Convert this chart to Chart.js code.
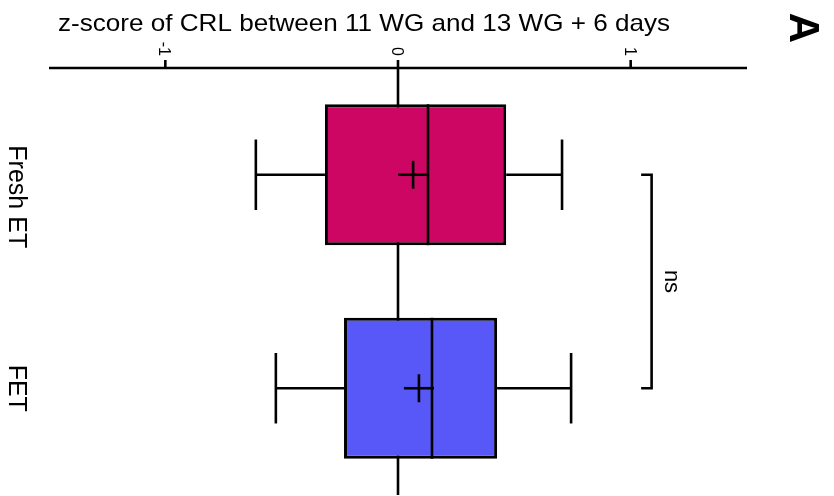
<!DOCTYPE html>
<html>
<head>
<meta charset="utf-8">
<script src="https://cdn.jsdelivr.net/npm/chart.js@4.4.1/dist/chart.umd.min.js"></script>
<style>
  body { margin: 0; background: #fff; }
  canvas { display: block; }
</style>
</head>
<body>
<canvas id="crl-chart" width="834" height="496"></canvas>
<script>
const groups = ['Fresh ET', 'FET'];
const whiskerLow = [-0.611, -0.525];
const quartile1 = [-0.314, -0.232];
const medians = [0.129, 0.146];
const quartile3 = [0.465, 0.426];
const whiskerHigh = [0.705, 0.744];
const means = [0.065, 0.090];
const boxColors = ['#cc0662', '#5858f8'];
const tickValues = [-1, 0, 1];
const tickLabels = ['-1', '0', '1'];
const axisTitle = 'z-score of CRL between 11 WG and 13 WG + 6 days';
const testLabel = 'ns';
const panelLetter = 'A';

const FONT = '"Liberation Sans", Arial, Helvetica, sans-serif';
const LINE_W = 2.6;

// rotated text, reading top to bottom
function drawTurned(ctx, text, x, y, font, align) {
    ctx.save();
    ctx.translate(x, y);
    ctx.rotate(Math.PI / 2);
    ctx.font = font;
    ctx.textAlign = align;
    ctx.textBaseline = 'alphabetic';
    ctx.fillStyle = '#000';
    ctx.fillText(text, 0, 0);
    ctx.restore();
}

function line(ctx, x1, y1, x2, y2) {
    ctx.beginPath();
    ctx.moveTo(x1, y1);
    ctx.lineTo(x2, y2);
    ctx.stroke();
}

const boxPlotExtras = {
    id: 'boxPlotExtras',
    beforeDatasetsDraw(chart) {
        const { ctx, chartArea, scales: { x } } = chart;
        ctx.save();
        ctx.strokeStyle = '#000';
        ctx.lineWidth = LINE_W;
        const x0 = x.getPixelForValue(0);
        line(ctx, x0, chartArea.top, x0, chartArea.bottom);
        ctx.restore();
    },
    afterDatasetsDraw(chart) {
        const { ctx, chartArea, scales: { x, y } } = chart;
        const meta = chart.getDatasetMeta(0);
        ctx.save();
        ctx.strokeStyle = '#000';
        ctx.lineWidth = LINE_W;

        meta.data.forEach((bar, i) => {
            const yc = bar.y;
            const half = bar.height / 2;
            const cap = bar.height / 4;

            // whiskers
            const lo = x.getPixelForValue(whiskerLow[i]);
            const hi = x.getPixelForValue(whiskerHigh[i]);
            line(ctx, lo, yc, x.getPixelForValue(quartile1[i]), yc);
            line(ctx, x.getPixelForValue(quartile3[i]), yc, hi, yc);
            line(ctx, lo, yc - cap, lo, yc + cap);
            line(ctx, hi, yc - cap, hi, yc + cap);

            // median
            const med = x.getPixelForValue(medians[i]);
            line(ctx, med, yc - half, med, yc + half);

            // mean
            const mx = x.getPixelForValue(means[i]);
            line(ctx, mx - 15, yc, mx + 15, yc);
            line(ctx, mx, yc - 14, mx, yc + 14);
        });

        // axis along the top
        const top = chartArea.top;
        line(ctx, chartArea.left, top, chartArea.right, top);
        tickValues.forEach((v, i) => {
            const px = x.getPixelForValue(v);
            line(ctx, px, top - 8, px, top);
            drawTurned(ctx, tickLabels[i], px - 6, top - 12, '16px ' + FONT, 'right');
        });

        // significance bracket
        const y1 = y.getPixelForValue(0);
        const y2 = y.getPixelForValue(1);
        const bx = x.getPixelForValue(1.09);
        const bcap = x.getPixelForValue(1.045);
        ctx.lineJoin = 'miter';
        ctx.beginPath();
        ctx.moveTo(bcap, y1);
        ctx.lineTo(bx, y1);
        ctx.lineTo(bx, y2);
        ctx.lineTo(bcap, y2);
        ctx.stroke();
        drawTurned(ctx, testLabel, x.getPixelForValue(1.147), (y1 + y2) / 2, '22px ' + FONT, 'center');
        ctx.restore();
    },
    afterDraw(chart) {
        const { ctx, scales: { y } } = chart;

        // group labels
        drawTurned(ctx, groups[0], 9, y.getPixelForValue(0) + 22, '25px ' + FONT, 'center');
        drawTurned(ctx, groups[1], 9, y.getPixelForValue(1), '25px ' + FONT, 'center');

        // axis title, stretched to the width of the axis text
        ctx.save();
        ctx.font = '24px ' + FONT;
        ctx.fillStyle = '#000';
        const w = ctx.measureText(axisTitle).width;
        ctx.translate(58, 31);
        ctx.scale(612 / w, 1);
        ctx.textBaseline = 'alphabetic';
        ctx.fillText(axisTitle, 0, 0);
        ctx.restore();

        drawTurned(ctx, panelLetter, 790, 28, 'bold 42px ' + FONT, 'center');
    }
};

new Chart(document.getElementById('crl-chart'), {
    type: 'bar',
    data: {
        labels: groups,
        datasets: [{
            data: groups.map((g, i) => [quartile1[i], quartile3[i]]),
            backgroundColor: boxColors,
            borderColor: '#000',
            borderWidth: 3,
            borderSkipped: false,
            barPercentage: 0.66,
            categoryPercentage: 1
        }]
    },
    options: {
        indexAxis: 'y',
        responsive: false,
        animation: false,
        layout: { padding: { left: 49, right: 87, top: 68, bottom: 1 } },
        plugins: { legend: { display: false }, tooltip: { enabled: false } },
        scales: {
            x: { type: 'linear', min: -1.5, max: 1.5, display: false },
            y: { type: 'category', display: false }
        }
    },
    plugins: [boxPlotExtras]
});
</script>
</body>
</html>
